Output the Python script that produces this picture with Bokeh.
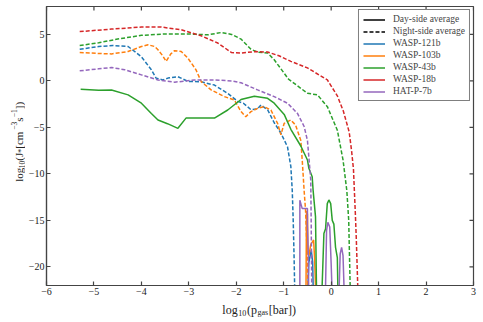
import math
from bokeh.plotting import figure
from bokeh.models import Range1d, FixedTicker, Legend, LegendItem
from bokeh.layouts import column, row
from bokeh.core.properties import value
from bokeh.embed import file_html
from bokeh.resources import INLINE

NAN = float("nan")

planets = ["WASP-121b", "WASP-103b", "WASP-43b", "WASP-18b", "HAT-P-7b"]
colors = ["#1f77b4", "#ff7f0e", "#2ca02c", "#d62728", "#9467bd"]

# ---- night-side averages (dashed) ----
w121_night_x = [-5.3, -4.9, -4.6, -4.28, -4.0, -3.79, -3.69, -3.55, -3.44, -3.23, -3.02, -2.74, -2.46, -2.18,
                -1.97, -1.85, -1.69, -1.55, -1.48, -1.34, -1.2, -1.06, -0.92, -0.85, -0.82, -0.80, -0.78, -0.77]
w121_night_y = [3.4, 3.7, 3.8, 3.7, 2.6, 1.2, 0.3, 0.1, 0.3, 0.45, -0.05, -0.1, -0.45, -1.35,
                -2.2, -2.4, -3.1, -3.0, -2.6, -3.1, -4.5, -5.6, -7.1, -9.2, -11.8, -15.0, -19.3, -22.0]

w103_night_x = [-5.3, -4.9, -4.63, -4.28, -4.0, -3.86, -3.72, -3.65, -3.55, -3.48, -3.38, -3.3, -3.16, -3.02,
                -2.85, -2.74, -2.53, -2.25, -2.04, -1.9, -1.8, -1.69, -1.55, -1.41, -1.27, -1.13, -1.06, -0.99,
                -0.85, -0.75, -0.64, -0.61, -0.57, -0.54, -0.5, -0.49]
w103_night_y = [3.05, 2.95, 2.9, 3.16, 3.7, 3.88, 3.7, 3.34, 2.7, 2.1, 2.9, 3.25, 3.16, 2.45,
                1.2, -0.07, -0.97, -1.69, -2.05, -3.3, -3.85, -3.3, -2.95, -2.77, -3.13, -4.56, -5.8, -4.56,
                -4.2, -4.75, -6.4, -8.5, -11.8, -13.9, -19.3, -22.0]

w43_night_x = [-5.3, -4.9, -4.5, -4.0, -3.5, -3.0, -2.6, -2.32, -2.1, -1.9, -1.69, -1.55, -1.34, -1.2,
               -0.9, -0.5, -0.29, -0.08, 0.13, 0.25, 0.33, 0.37, 0.4]
w43_night_y = [3.8, 4.1, 4.5, 4.9, 5.05, 5.05, 4.95, 5.2, 5.0, 4.5, 3.4, 3.1, 3.0, 2.27,
               0.2, -1.33, -1.5, -2.77, -5.3, -8.5, -11.8, -15.0, -22.0]

w18_night_x = [-5.3, -4.63, -4.0, -3.58, -3.16, -2.74, -2.39, -2.1, -1.9, -1.6, -1.34, -1.1, -0.85, -0.5,
               -0.08, 0.13, 0.26, 0.38, 0.43, 0.47, 0.51, 0.53, 0.56]
w18_night_y = [5.3, 5.57, 5.79, 5.79, 5.5, 4.85, 4.07, 3.05, 3.0, 3.15, 3.1, 2.7, 2.1, 1.4,
               0.1, -1.6, -3.3, -5.5, -7.5, -9.5, -14.3, -17.0, -22.0]

w7_night_x = [-5.3, -4.9, -4.63, -4.35, -4.0, -3.65, -3.3, -2.88, -2.46, -2.1, -1.9, -1.55, -1.2, -0.92,
              -0.71, -0.57, -0.5, -0.47, -0.43, -0.42, -0.41]
w7_night_y = [1.08, 1.3, 1.44, 1.2, 0.65, 0.1, -0.14, 0.1, 0.1, 0.0, -0.2, -0.97, -1.69, -2.4,
              -3.5, -4.9, -6.4, -8.2, -10.7, -15.7, -22.0]

# ---- day-side averages (solid) ----
w121_day_x = [-0.49, -0.47, -0.42, -0.39, -0.38]
w121_day_y = [-22.0, -19.5, -18.2, -19.5, -22.0]

w103_day_x = [-0.53, -0.52, -0.5, -0.49, -0.47, -0.43, -0.37, -0.35, -0.33]
w103_day_y = [-22.0, -14.0, -14.3, -18.5, -18.8, -17.6, -17.1, -19.0, -22.0]

w43_day_x = [-5.28, -4.9, -4.63, -4.28, -4.0, -3.79, -3.65, -3.45, -3.23, -3.06, -2.74, -2.46, -2.18, -1.9,
             -1.62, -1.34, -1.2, -0.99, -0.85, -0.64, -0.5, -0.47, -0.4, -0.38, -0.33, -0.31, NAN,
             -0.19, -0.153, -0.118, -0.082, -0.048, -0.01, 0.023, 0.057, 0.092, 0.13, 0.14]
w43_day_y = [-0.9, -1.0, -0.97, -1.5, -2.4, -3.5, -4.2, -4.6, -5.1, -4.0, -4.0, -4.0, -3.13, -2.0,
             -1.65, -1.87, -2.4, -3.6, -5.2, -7.0, -8.5, -9.4, -10.3, -11.8, -14.6, -22.0, NAN,
             -22.0, -16.4, -15.9, -13.2, -12.8, -13.2, -15.0, -15.4, -17.9, -19.0, -22.0]

w18_day_x = [NAN]
w18_day_y = [NAN]

w7_day_x = [-0.66, -0.66, -0.61, -0.5, -0.5, -0.48, -0.475, NAN,
            -0.118, -0.097, -0.07, -0.03, 0.0, 0.015, NAN,
            0.17, 0.19, 0.22, 0.25, 0.27]
w7_day_y = [-22.0, -12.84, -13.73, -13.73, -15.5, -19.0, -22.0, NAN,
            -22.0, -16.1, -15.2, -15.7, -19.7, -22.0, NAN,
            -22.0, -18.6, -17.9, -18.8, -22.0]

day_x = [w121_day_x, w103_day_x, w43_day_x, w18_day_x, w7_day_x]
day_y = [w121_day_y, w103_day_y, w43_day_y, w18_day_y, w7_day_y]
night_x = [w121_night_x, w103_night_x, w43_night_x, w18_night_x, w7_night_x]
night_y = [w121_night_y, w103_night_y, w43_night_y, w18_night_y, w7_night_y]

x_ticks = [-6, -5, -4, -3, -2, -1, 0, 1, 2, 3]
y_ticks = [-20, -15, -10, -5, 0, 5]
X0, X1, Y0, Y1 = -6, 3, -22, 8

FONT = "Liberation Serif"
AX = "#444444"
TXT = "#222222"

# layout: [left label strip | main plot] over [bottom label strip]
LW, MW, MH, BH = 25, 458, 300, 22
BL, BR, BT, BB = 20, 10, 6, 15
FRAME_W = MW - BL - BR
FRAME_H = MH - BT - BB
TICK = 4

p = figure(width=MW, height=MH, x_range=Range1d(X0, X1), y_range=Range1d(Y0, Y1),
           output_backend="svg", toolbar_location=None,
           min_border_left=BL, min_border_right=BR, min_border_top=BT, min_border_bottom=BB)
p.xgrid.visible = False
p.ygrid.visible = False
p.outline_line_color = AX
p.outline_line_width = 1.2
p.background_fill_color = "white"


def minus(v):
    return str(v).replace("-", "\u2212")


for ax, ticks in ((p.xaxis[0], x_ticks), (p.yaxis[0], y_ticks)):
    ax.ticker = FixedTicker(ticks=ticks)
    ax.major_tick_in = TICK
    ax.major_tick_out = 0
    ax.minor_tick_line_color = None
    ax.major_tick_line_color = AX
    ax.major_tick_line_width = 1.2
    ax.axis_line_color = AX
    ax.axis_line_width = 1.2
    ax.major_label_overrides = {t: minus(t) for t in ticks}
    ax.major_label_text_font = FONT
    ax.major_label_text_font_size = "10px"
    ax.major_label_text_color = TXT
    ax.major_label_standoff = 2

# mirrored inward ticks on the top and right edges
tick_dy = TICK * (Y1 - Y0) / FRAME_H
tick_dx = TICK * (X1 - X0) / FRAME_W
p.segment(x0=x_ticks, y0=[Y1] * len(x_ticks), x1=x_ticks, y1=[Y1 - tick_dy] * len(x_ticks),
          line_color=AX, line_width=1.2)
p.segment(x0=[X1] * len(y_ticks), y0=y_ticks, x1=[X1 - tick_dx] * len(y_ticks), y1=y_ticks,
          line_color=AX, line_width=1.2)

day_renderers = []
for i, name in enumerate(planets):
    rd = p.line(day_x[i], day_y[i], line_color=colors[i], line_width=1.5)
    p.line(night_x[i], night_y[i], line_color=colors[i], line_width=1.5, line_dash="4 2")
    day_renderers.append(rd)

legend_day = p.line([NAN], [NAN], line_color="black", line_width=1.5)
legend_night = p.line([NAN], [NAN], line_color="black", line_width=1.5, line_dash="4 2")
items = [LegendItem(label="Day-side average", renderers=[legend_day]),
         LegendItem(label="Night-side average", renderers=[legend_night])]
items += [LegendItem(label=n, renderers=[r]) for n, r in zip(planets, day_renderers)]
legend = Legend(items=items, location="top_right", border_line_color="black", border_line_width=1,
                background_fill_color="white", background_fill_alpha=1.0,
                label_text_font=FONT, label_text_font_size="9.5px",
                glyph_width=22, glyph_height=9, label_height=9, spacing=2, padding=4,
                margin=3, label_standoff=8)
p.add_layout(legend)


def strip(w, h):
    s = figure(width=w, height=h, x_range=Range1d(0, w), y_range=Range1d(0, h),
               x_axis_location=None, y_axis_location=None, min_border=0,
               output_backend="svg", toolbar_location=None)
    s.outline_line_color = None
    s.grid.grid_line_color = None
    s.background_fill_color = "white"
    s.border_fill_color = "white"
    return s


EM = {"l": .278, "o": .5, "g": .5, "1": .5, "0": .5, "3": .5, "(": .333, ")": .333, "p": .5,
      "a": .444, "s": .389, "[": .333, "]": .333, "b": .5, "r": .333, "J": .389, "*": .5,
      " ": .25, "c": .444, "m": .778, "\u2212": .564}
GAP = 0.6


def width(text, size):
    return sum(EM.get(c, .5) for c in text) * size + GAP


# x-axis label: log10(p_gas[bar])
bottom = strip(LW + MW, BH)
x_pieces = [("log", 12, 0), ("10", 8, -3), ("(p", 12, 0), ("gas", 8, -3), ("[bar])", 12, 0)]
total = sum(width(t, s) for t, s, _ in x_pieces)
pos = LW + BL + FRAME_W / 2 - total / 2
for t, s, sh in x_pieces:
    bottom.text(x=[pos], y=[13 + sh], text=[t], text_font=value(FONT), text_font_size=value(f"{s}px"),
                text_color=TXT, text_align="left", text_baseline="alphabetic")
    pos += width(t, s)

# y-axis label: log10(J* [cm^-3 s^-1])
left = strip(LW, MH)
y_pieces = [("log", 11, 0), ("10", 7.5, 3), ("(J", 11, 0), ("*", 7.5, 3), (" [cm", 11, 0),
            ("\u22123", 7.5, -5), ("s", 11, 0), ("\u22121", 7.5, -5), ("])", 11, 0)]
total = sum(width(t, s) for t, s, _ in y_pieces)
pos = BB + FRAME_H / 2 - total / 2
for t, s, sh in y_pieces:
    left.text(x=[18 + sh], y=[pos], text=[t], angle=math.pi / 2, text_font=value(FONT),
              text_font_size=value(f"{s}px"), text_color=TXT, text_align="left", text_baseline="alphabetic")
    pos += width(t, s)

layout = column(row(left, p), bottom)
open("out.html", "w").write(file_html(layout, INLINE))
